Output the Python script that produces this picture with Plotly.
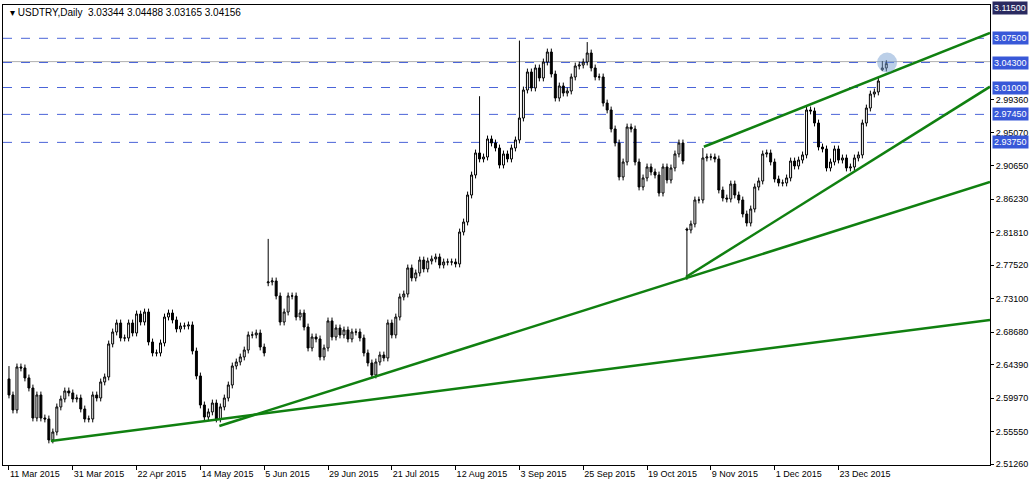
import plotly.graph_objects as go

closes = [2.6038,2.5840,2.6408,2.6395,2.6263,2.6130,2.5734,2.6038,2.5734,2.5721,2.5444,2.5549,2.5880,2.5985,2.6091,2.6065,
2.5985,2.5998,2.5853,2.5721,2.5721,2.6038,2.5998,2.6210,2.6276,2.6712,2.6870,2.6989,2.6791,2.6791,2.6989,2.6857,
2.7108,2.7002,2.7134,2.6738,2.6593,2.6593,2.6725,2.7068,2.7121,2.7029,2.6910,2.6949,2.6949,2.6963,2.6619,2.6289,
2.5906,2.5747,2.5814,2.5932,2.5721,2.5880,2.5998,2.6170,2.6421,2.6474,2.6540,2.6632,2.6831,2.6831,2.6857,2.6672,2.6593,
2.7531,2.7544,2.7346,2.7002,2.7134,2.7346,2.7346,2.7068,2.7121,2.6936,2.6659,2.6804,2.6778,2.6540,2.6659,2.7016,
2.6804,2.6923,2.6831,2.6897,2.6778,2.6870,2.6870,2.6791,2.6593,2.6461,2.6302,2.6474,2.6566,2.6527,2.6989,2.6831,
2.7068,2.7333,2.7372,2.7716,2.7584,2.7650,2.7821,2.7703,2.7808,2.7835,2.7861,2.7755,2.7795,2.7795,2.7795,2.7769,
2.8191,2.8323,2.8680,2.8944,2.9235,2.9156,2.9182,2.9420,2.9367,2.9301,2.9076,2.9222,2.9156,2.9301,
2.9407,2.9697,3.0067,3.0305,3.0094,3.0358,3.0226,3.0437,3.0569,3.0278,2.9961,3.0120,3.0027,3.0054,3.0239,3.0384,
3.0397,3.0437,3.0556,3.0358,3.0239,3.0239,2.9895,2.9803,2.9552,2.9367,2.8918,2.9116,2.9578,2.9552,2.9116,2.8786,
2.8905,2.9050,2.8984,2.8944,2.8706,2.9050,2.8878,2.9037,2.9222,2.9367,2.9129,
2.8218,2.8297,2.8614,2.8614,2.9169,2.9182,2.9182,2.9156,2.8746,2.8640,2.8627,2.8825,2.8680,2.8614,2.8429,2.8310,
2.8495,2.8786,2.8865,2.9222,2.9235,2.9116,2.8891,2.8839,2.8839,2.8905,2.9129,2.9063,2.9142,2.9209,2.9803,2.9790,
2.9631,2.9314,2.9288,2.9037,2.9116,2.9288,2.9142,2.9169,2.9037,2.9050,2.9169,2.9209,2.9631,2.9829,3.0014,3.0041,
3.0186,3.0358,3.04156]

first_open = 2.6250
open_overrides = {65: 2.7520, 170: 2.8230, 219: 3.03344}
wick = 0.0045
high_overrides = {65: 2.8100, 0: 2.6420, 118: 2.9985, 128: 3.0720, 145: 3.0700, 170: 2.8250, 174: 2.9300, 219: 3.04488}
low_overrides = {170: 2.7560, 219: 3.03165}

tick_idx = [0,16,32,48,64,80,96,112,128,144,160,176,192,208]
tick_text = ["11 Mar 2015","31 Mar 2015","22 Apr 2015","14 May 2015","5 Jun 2015","29 Jun 2015","21 Jul 2015",
             "12 Aug 2015","3 Sep 2015","25 Sep 2015","19 Oct 2015","9 Nov 2015","1 Dec 2015","23 Dec 2015"]

y_ticks = [3.11500,3.07500,3.04300,3.01000,2.99360,2.97450,2.95070,2.93750,2.90650,2.86230,2.81810,2.77520,
           2.73100,2.68680,2.64390,2.59970,2.55550,2.51260]
levels = [3.07500,3.04300,3.01000,2.97450,2.93750]
boxed = [3.11500,3.07500,3.04300,3.01000,2.97450,2.93750]
bid_line = 3.04420

# trend lines: (x0, y0, x1, y1) in bar index / price
trend_lines = [(10.5,2.5430,246,2.7029),(52.75,2.5629,246,2.8852),(169.75,2.7597,246,3.0111),(174.25,2.9317,246,3.0820)]

n = len(closes)
idx = list(range(n))
opens = [first_open] + closes[:-1]
for k, v in open_overrides.items():
    if k < n: opens[k] = v
highs = [max(o, c) + wick for o, c in zip(opens, closes)]
lows = [min(o, c) - wick for o, c in zip(opens, closes)]
for k, v in high_overrides.items():
    if k < n: highs[k] = v
for k, v in low_overrides.items():
    if k < n: lows[k] = v

fig = go.Figure(go.Candlestick(
    x=idx, open=opens, high=highs, low=lows, close=closes,
    increasing=dict(line=dict(color="black", width=1), fillcolor="white"),
    decreasing=dict(line=dict(color="black", width=1), fillcolor="black"),
    whiskerwidth=0, showlegend=False, hoverinfo="skip"))

shapes = [dict(type="line", xref="paper", x0=0, x1=1, yref="y", y0=bid_line, y1=bid_line,
               line=dict(color="#b0b0b0", width=1), layer="below")]
for lv in levels:
    shapes.append(dict(type="line", xref="paper", x0=0, x1=1, yref="y", y0=lv, y1=lv,
                       line=dict(color="#4a64d8", width=1, dash="dash"), layer="below"))
for (x0, y0, x1, y1) in trend_lines:
    shapes.append(dict(type="line", xref="x", yref="y", x0=x0, y0=y0, x1=x1, y1=y1,
                       line=dict(color="#108010", width=2.5)))
shapes.append(dict(type="circle", xref="x", yref="y", x0=n-1-2.3, x1=n-1+2.7, y0=3.0298, y1=3.0562,
                   fillcolor="rgba(120,160,210,0.5)", line=dict(width=0)))

FONT = "Liberation Sans"
annotations = []
for v in boxed:
    annotations.append(dict(xref="paper", x=1.0, yref="y", y=v, text=f"{v:.5f}", showarrow=False,
                            xanchor="left", xshift=2, bgcolor="#3858d8" if v != 3.115 else "#2a2a60",
                            font=dict(color="white", size=9, family=FONT), borderpad=1))
annotations.append(dict(xref="paper", yref="paper", x=0.005, y=1.0, yanchor="top", xanchor="left",
                        text="▾ USDTRY,Daily  3.03344 3.04488 3.03165 3.04156", showarrow=False,
                        font=dict(size=10, color="black", family=FONT)))

plain = [v for v in y_ticks if v not in boxed]

fig.update_layout(
    width=1036, height=489, margin=dict(l=3, r=46, t=5, b=24, autoexpand=False),
    paper_bgcolor="white", plot_bgcolor="white",
    shapes=shapes, annotations=annotations,
    xaxis=dict(range=[-1.5, 246], rangeslider=dict(visible=False), tickvals=tick_idx, ticktext=tick_text,
               ticklabelposition="outside right", tickangle=0, automargin=False,
               showgrid=False, zeroline=False, showline=True,
               linecolor="black", mirror=True, ticks="outside", ticklen=4, tickcolor="black",
               tickfont=dict(size=9, family=FONT, color="black")),
    yaxis=dict(range=[2.5113, 3.1190], side="right", tickvals=plain, ticktext=[f"{v:.5f}" for v in plain],
               automargin=False, showgrid=False, zeroline=False, showline=True, linecolor="black", mirror=True,
               ticks="outside", ticklen=3, tickcolor="black",
               tickfont=dict(size=9, family=FONT, color="black")),
)
fig.write_html("out.html", config={"displayModeBar": False},
               post_script="document.body.style.margin='0';")
